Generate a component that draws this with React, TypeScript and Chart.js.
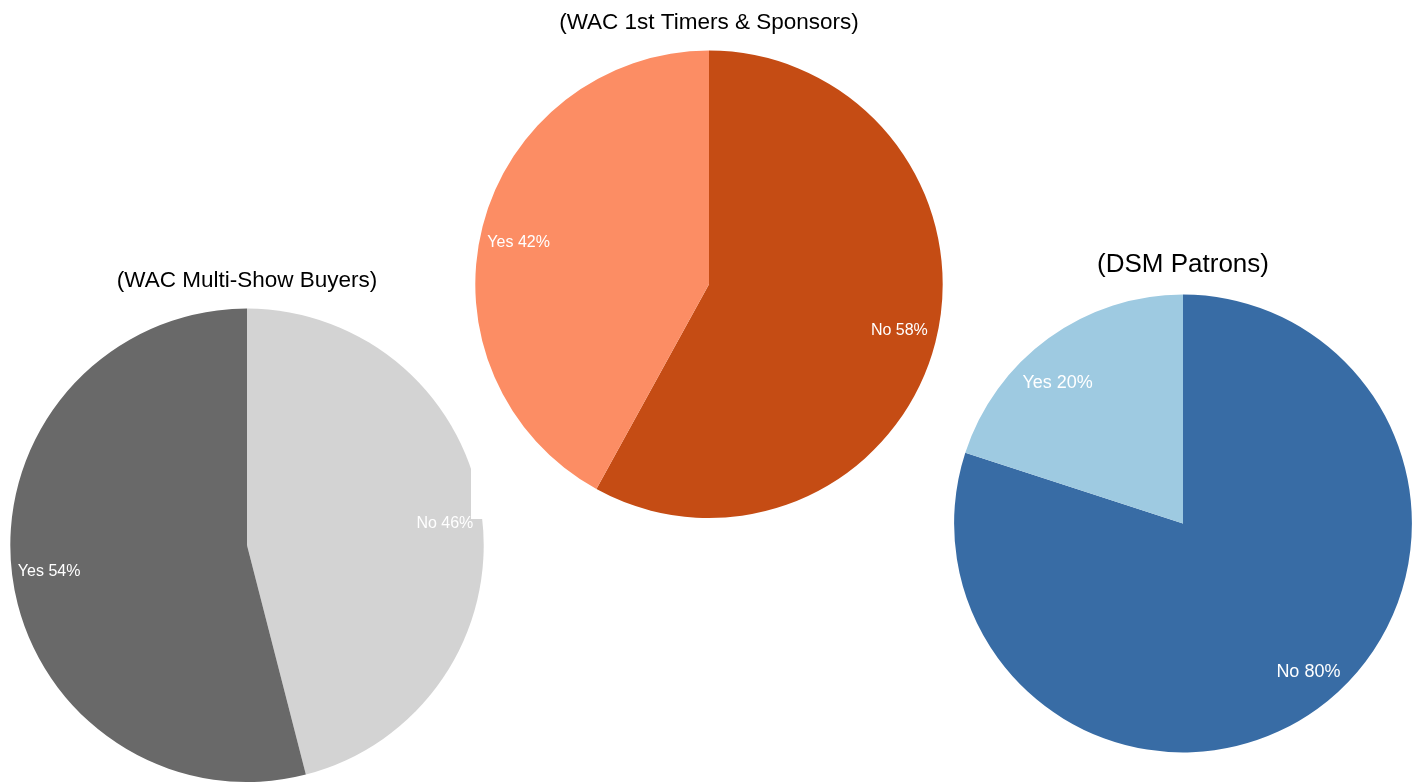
import React, { useEffect, useRef } from 'react';
import { Chart, registerables } from 'chart.js';

Chart.register(...registerables);

// ---- data ----
const multiShowLabels = ['No', 'Yes'];
const multiShowValues = [46, 54];
const multiShowColors = ['#D3D3D3', '#696969'];

const firstTimerLabels = ['No', 'Yes'];
const firstTimerValues = [58, 42];
const firstTimerColors = ['#C54C14', '#FC8D64'];

const dsmLabels = ['No', 'Yes'];
const dsmValues = [80, 20];
const dsmColors = ['#386CA5', '#9ECAE1'];

const FONT = "Arial, 'Liberation Sans', Helvetica, sans-serif";

const sliceLabels = {
  id: 'sliceLabels',
  afterDatasetsDraw(chart: any, _args: any, opts: any) {
    const ctx = chart.ctx;
    const meta = chart.getDatasetMeta(0);
    const ds = chart.data.datasets[0];
    ctx.save();
    ctx.fillStyle = '#ffffff';
    ctx.font = `${opts.size}px ${FONT}`;
    ctx.textAlign = 'center';
    ctx.textBaseline = 'middle';
    const shift = ((opts.shift || 0) * Math.PI) / 180;
    meta.data.forEach((arc: any, i: number) => {
      const p = arc.getProps(['x', 'y', 'startAngle', 'endAngle', 'outerRadius'], true);
      const a = (p.startAngle + p.endAngle) / 2 + shift;
      const r = p.outerRadius * opts.factor;
      ctx.fillText(
        `${chart.data.labels[i]} ${ds.data[i]}%`,
        p.x + Math.cos(a) * r,
        p.y + Math.sin(a) * r + (opts.dy || 0)
      );
    });
    ctx.restore();
  },
};

const whiteBg = {
  id: 'whiteBg',
  beforeDraw(chart: any, _args: any, opts: any) {
    if (!opts || !opts.enabled) return;
    const ctx = chart.ctx;
    ctx.save();
    ctx.fillStyle = '#ffffff';
    ctx.fillRect(0, 0, chart.width, chart.height);
    ctx.restore();
  },
};

type PieProps = {
  left: number;
  top: number;
  width: number;
  height: number;
  labels: string[];
  values: number[];
  colors: string[];
  title: string;
  titleSize: number;
  labelSize: number;
  labelFactor: number;
  labelShift: number;
  labelDy: number;
  padding: { top: number; bottom: number; left: number; right: number };
  bg?: boolean;
};

function PieChart(props: PieProps) {
  const ref = useRef<HTMLCanvasElement | null>(null);
  useEffect(() => {
    if (!ref.current) return;
    const chart = new Chart(ref.current, {
      type: 'pie',
      data: {
        labels: props.labels,
        datasets: [
          {
            data: props.values,
            backgroundColor: props.colors,
            borderWidth: 0,
          },
        ],
      },
      options: {
        responsive: false,
        animation: false,
        layout: { padding: props.padding },
        plugins: {
          legend: { display: false },
          tooltip: { enabled: false },
          title: {
            display: true,
            text: props.title,
            color: '#000000',
            font: { family: FONT, size: props.titleSize, weight: 'normal' },
            padding: { top: 6, bottom: 14 },
          },
          // @ts-ignore
          sliceLabels: {
            size: props.labelSize,
            factor: props.labelFactor,
            shift: props.labelShift,
            dy: props.labelDy,
          },
          // @ts-ignore
          whiteBg: { enabled: !!props.bg },
        },
      } as any,
      plugins: [whiteBg, sliceLabels],
    });
    return () => chart.destroy();
  }, []);
  return (
    <canvas
      ref={ref}
      width={props.width}
      height={props.height}
      style={{
        position: 'absolute',
        left: props.left,
        top: props.top,
        width: props.width,
        height: props.height,
        display: 'block',
      }}
    />
  );
}

export default function App() {
  return (
    <div>
      <PieChart
        left={10}
        top={261}
        width={474}
        height={521}
        labels={multiShowLabels}
        values={multiShowValues}
        colors={multiShowColors}
        title="(WAC Multi-Show Buyers)"
        titleSize={22.5}
        labelSize={16}
        labelFactor={0.842}
        labelShift={0.3}
        labelDy={2}
        padding={{ top: 0.6, bottom: 0, left: 0, right: 0 }}
      />
      <PieChart
        left={471}
        top={0}
        width={476}
        height={519}
        labels={firstTimerLabels}
        values={firstTimerValues}
        colors={firstTimerColors}
        title="(WAC 1st Timers & Sponsors)"
        titleSize={22.5}
        labelSize={16}
        labelFactor={0.836}
        labelShift={-1.4}
        labelDy={2}
        padding={{ top: 3.6, bottom: 1, left: 4, right: 4 }}
        bg
      />
      <PieChart
        left={950}
        top={239}
        width={466}
        height={515}
        labels={dsmLabels}
        values={dsmValues}
        colors={dsmColors}
        title="(DSM Patrons)"
        titleSize={26}
        labelSize={18}
        labelFactor={0.835}
        labelShift={-5}
        labelDy={4}
        padding={{ top: 4.4, bottom: 1.6, left: 4, right: 4 }}
      />
    </div>
  );
}
